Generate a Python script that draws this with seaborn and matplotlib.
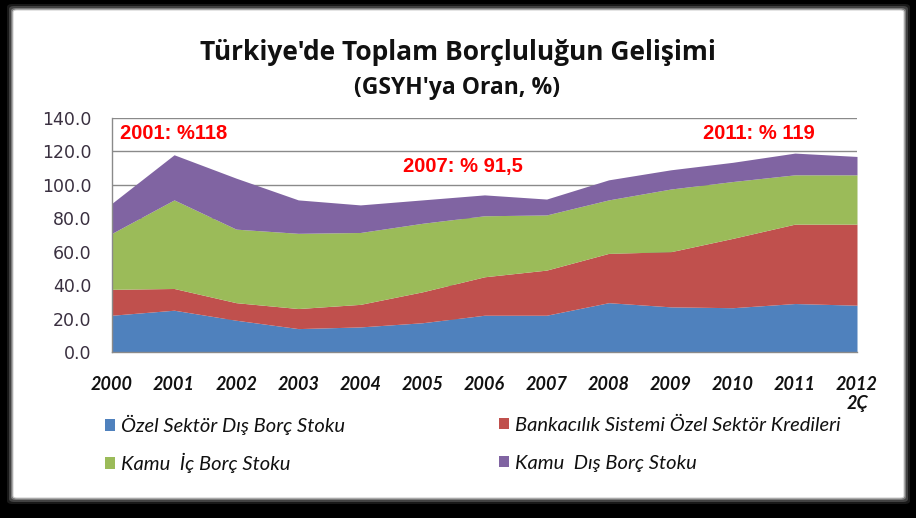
import matplotlib
matplotlib.use("Agg")
import matplotlib.pyplot as plt
from matplotlib.patches import FancyBboxPatch, Patch
import numpy as np
import pandas as pd
import seaborn as sns

# ---- data ----
years = ["2000", "2001", "2002", "2003", "2004", "2005", "2006",
         "2007", "2008", "2009", "2010", "2011", "2012\n2Ç"]
ozel_dis = [22, 25, 19, 14, 15, 17.5, 22, 22, 29.5, 27, 26.5, 29, 28]
banka_kredi = [15.5, 13, 10.5, 12, 13.5, 18.5, 23, 27, 29.5, 33, 41.5, 47.5, 48.5]
kamu_ic = [33.5, 53, 44, 45, 43, 41, 36.5, 33, 32, 37.5, 34, 29.5, 29.5]
kamu_dis = [18, 27, 30.5, 20, 16.5, 14, 12.5, 9.5, 12, 11.5, 11.5, 13, 11]
series_names = ["Özel Sektör Dış Borç Stoku",
                "Bankacılık Sistemi Özel Sektör Kredileri",
                "Kamu  İç Borç Stoku",
                "Kamu  Dış Borç Stoku"]
annotations = [("2001: %118", 0.13, 130.5),
               ("2007: % 91,5", 4.69, 110.8),
               ("2011: % 119", 9.52, 131.0)]
y_ticks = [0, 20, 40, 60, 80, 100, 120, 140]

colors = ["#4F81BD", "#C0504D", "#9BBB59", "#8064A2"]

df = pd.DataFrame({"year": years, series_names[0]: ozel_dis,
                   series_names[1]: banka_kredi, series_names[2]: kamu_ic,
                   series_names[3]: kamu_dis})

sns.set_theme(style="white")
plt.rcParams["font.family"] = ["Lato", "DejaVu Sans"]

W, H = 916, 518
fig = plt.figure(figsize=(W / 100, H / 100), dpi=100, facecolor="black")

# white panel with soft glow
px0, py0, px1, py1 = 13, 10, 904, 498
for i, a in enumerate([0.10, 0.18, 0.30]):
    g = 6 - 2 * i
    fig.patches.append(FancyBboxPatch(((px0 - g) / W, 1 - (py1 + g) / H),
                                      (px1 - px0 + 2 * g) / W, (py1 - py0 + 2 * g) / H,
                                      boxstyle="round,pad=0,rounding_size=0.006",
                                      transform=fig.transFigure, facecolor="white",
                                      edgecolor="none", alpha=a, zorder=0))
fig.patches.append(FancyBboxPatch((px0 / W, 1 - py1 / H), (px1 - px0) / W, (py1 - py0) / H,
                                  boxstyle="round,pad=0,rounding_size=0.004",
                                  transform=fig.transFigure, facecolor="white",
                                  edgecolor="#d0d0d0", lw=0.8, zorder=1))

ax_l, ax_r, ax_t, ax_b = 112, 857, 118, 352
ax = fig.add_axes([ax_l / W, 1 - ax_b / H, (ax_r - ax_l) / W, (ax_b - ax_t) / H])
ax.set_facecolor("white")
ax.set_zorder(2)

x = np.arange(len(years))
ax.stackplot(x, df[series_names[0]], df[series_names[1]], df[series_names[2]],
             df[series_names[3]], colors=colors, linewidth=0, zorder=3)

ax.set_xlim(0, len(years) - 1)
ax.set_ylim(0, 140)
ax.set_yticks(y_ticks)
ax.set_yticklabels([f"{v:.1f}" for v in y_ticks], fontfamily="DejaVu Sans",
                   fontsize=12.5, color="#3a3040")
ax.set_xticks(x)
ax.set_xticklabels(years, fontfamily="Lato", fontstyle="italic", fontweight="bold",
                   fontsize=13, color="#111111")
ax.tick_params(axis="y", length=0, pad=15)
ax.tick_params(axis="x", length=0, pad=17)
ax.yaxis.grid(True, color="#8a8a8a", linewidth=1.0, zorder=1)
ax.set_axisbelow(True)
for s in ["top", "right"]:
    ax.spines[s].set_visible(False)
for s in ["left", "bottom"]:
    ax.spines[s].set_color("#8a8a8a")
    ax.spines[s].set_linewidth(1.0)
    ax.spines[s].set_zorder(4)

for txt, xx, yy in annotations:
    ax.text(xx, yy, txt, color="#FF0000", fontfamily="Liberation Sans",
            fontweight="bold", fontsize=14.5, ha="left", va="center", zorder=5)

fig.text(457.5 / W, 1 - 53 / H, "Türkiye'de Toplam Borçluluğun Gelişimi",
         ha="center", va="center", fontsize=19, fontfamily="Open Sans",
         fontweight="bold", color="#111111", zorder=3)
fig.text(457.5 / W, 1 - 88 / H, "(GSYH'ya Oran, %)",
         ha="center", va="center", fontsize=16.5, fontfamily="Open Sans",
         fontweight="bold", color="#111111", zorder=3)

# legend: one entry per position (2 x 2 grid)
leg_pos = [(105, 425), (499, 425), (105, 463), (499, 463)]
leg_order = [0, 1, 2, 3]
for k, (lx, ly) in zip(leg_order, leg_pos):
    leg = fig.legend([Patch(facecolor=colors[k], edgecolor="none")], [series_names[k]],
                     loc="center left", bbox_to_anchor=(lx / W, 1 - ly / H),
                     frameon=False, handlelength=0.5, handleheight=0.5,
                     handletextpad=0.3, borderpad=0, borderaxespad=0,
                     prop={"family": "Lato", "style": "italic", "size": 14.5})
    leg.set_zorder(5)
    for t in leg.get_texts():
        t.set_color("#111111")

fig.savefig("out.png", dpi=100, facecolor="black")
